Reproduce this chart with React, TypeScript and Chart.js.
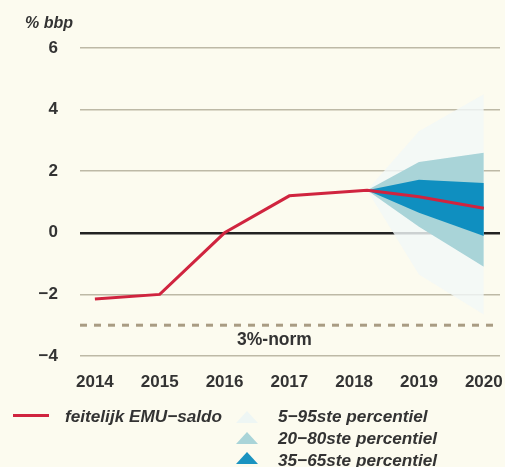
import React, { useEffect, useRef } from "react";
import { Chart, registerables } from "chart.js";
Chart.register(...registerables);

// ---- data ----
const years = [2014, 2015, 2016, 2017, 2018, 2019, 2020];
const yTicks = [6, 4, 2, 0, -2, -4];
const actualX = [2014, 2015, 2016, 2017, 2018.2, 2019, 2020];
const actualY = [-2.15, -2.0, 0.0, 1.2, 1.38, 1.17, 0.8];
const fanX = [2018.2, 2019, 2020];
const p95 = [1.38, 3.3, 4.5];
const p5 = [1.38, -1.35, -2.65];
const p80 = [1.38, 2.3, 2.6];
const p20 = [1.38, 0.2, -1.1];
const p65 = [1.38, 1.72, 1.62];
const p35 = [1.38, 0.65, -0.1];
const normValue = -3;
const normLabel = "3%-norm";
const normLabelX = 2016.77;
const legendLabels = ["feitelijk EMU\u2212saldo", "5\u221295ste percentiel", "20\u221280ste percentiel", "35\u221265ste percentiel"];

const BG = "#fcfbef";
const RED = "#d0243f";
const C595 = "rgba(241,248,248,0.82)";
const C2080 = "#a9d4d8";
const C3565 = "#0f8fc0";
const FONT = "'Liberation Sans', Arial, sans-serif";

const pts = (xs: number[], ys: number[]) => xs.map((x, i) => ({ x, y: ys[i] }));

const normPlugin = {
  id: "norm",
  afterDatasetsDraw(chart: any) {
    const { ctx, chartArea, scales } = chart;
    const y = scales.y.getPixelForValue(normValue);
    ctx.save();
    ctx.strokeStyle = "#a99c83";
    ctx.lineWidth = 3;
    ctx.setLineDash([7, 7]);
    ctx.beginPath();
    ctx.moveTo(chartArea.left, y);
    ctx.lineTo(chartArea.right, y);
    ctx.stroke();
    ctx.setLineDash([]);
    ctx.fillStyle = "#333";
    ctx.font = `bold 17.5px ${FONT}`;
    ctx.textAlign = "center";
    ctx.textBaseline = "middle";
    ctx.fillText(normLabel, scales.x.getPixelForValue(normLabelX), y + 15);
    ctx.restore();
  },
};

export default function App() {
  const ref = useRef<HTMLCanvasElement | null>(null);
  useEffect(() => {
    document.body.style.margin = "0";
    document.body.style.background = BG;
    const band = (data: number[], color: string, fill: any, order: number) => ({
      data: pts(fanX, data),
      borderWidth: 0,
      pointRadius: 0,
      backgroundColor: color,
      borderColor: "transparent",
      fill,
      order,
    });
    const chart = new Chart(ref.current!, {
      type: "line",
      data: {
        datasets: [
          band(p95, C595, false, 3),
          band(p5, C595, 0, 3),
          band(p80, C2080, false, 2),
          band(p20, C2080, 2, 2),
          band(p65, C3565, false, 1),
          band(p35, C3565, 4, 1),
          {
            label: legendLabels[0],
            data: pts(actualX, actualY),
            borderColor: RED,
            borderWidth: 3,
            pointRadius: 0,
            fill: false,
            tension: 0,
            order: 0,
          },
        ],
      },
      options: {
        responsive: false,
        animation: false,
        layout: { padding: { top: 48, right: 5, left: 0, bottom: 0 } },
        plugins: { legend: { display: false }, tooltip: { enabled: false } },
        scales: {
          x: {
            type: "linear",
            min: 2013.77,
            max: 2020.25,
            afterBuildTicks: (s: any) => {
              s.ticks = years.map((v) => ({ value: v }));
            },
            afterFit: (s: any) => {
              s.height = 111;
              s.paddingRight = 0;
              s.paddingLeft = 0;
            },
            grid: { display: false },
            border: { display: false },
            ticks: {
              color: "#333",
              font: { family: FONT, size: 17, weight: "bold" },
              padding: 8,
              maxRotation: 0,
              callback: (v: any) => String(v),
            },
          },
          y: {
            min: -4,
            max: 6,
            afterBuildTicks: (s: any) => {
              s.ticks = yTicks.map((v) => ({ value: v }));
            },
            afterFit: (s: any) => {
              s.width = 80;
              s.paddingTop = 0;
              s.paddingBottom = 0;
            },
            border: { display: false },
            grid: {
              drawTicks: false,
              color: (c: any) => (c.tick && c.tick.value === 0 ? "#222" : "#bdb9a6"),
              lineWidth: (c: any) => (c.tick && c.tick.value === 0 ? 2.5 : 1.5),
            },
            ticks: {
              color: "#333",
              font: { family: FONT, size: 17, weight: "bold" },
              padding: 22,
              callback: (v: any) => (v < 0 ? "\u2212" + Math.abs(v) : String(v)),
            },
          },
        },
      } as any,
      plugins: [normPlugin],
    });
    return () => chart.destroy();
  }, []);

  const txt: React.CSSProperties = {
    position: "absolute",
    fontFamily: FONT,
    fontWeight: "bold",
    fontStyle: "italic",
    fontSize: 17.2,
    color: "#333",
    whiteSpace: "nowrap",
    lineHeight: "20px",
  };
  const tri = (color: string, top: number): React.CSSProperties => ({
    position: "absolute",
    left: 236,
    top,
    width: 0,
    height: 0,
    borderLeft: "11px solid transparent",
    borderRight: "11px solid transparent",
    borderBottom: `12px solid ${color}`,
  });

  return (
    <div style={{ position: "relative", width: 505, height: 467, background: BG }}>
      <canvas ref={ref} width={505} height={467} style={{ position: "absolute", left: 0, top: 0 }} />
      <div style={{ ...txt, fontSize: 16, left: 25, top: 13 }}>% bbp</div>
      <div style={{ position: "absolute", left: 13, top: 414, width: 36, height: 3, background: RED }} />
      <div style={{ ...txt, left: 65, top: 406 }}>{legendLabels[0]}</div>
      <div style={tri("#eef6f4", 411)} />
      <div style={{ ...txt, left: 278, top: 406 }}>{legendLabels[1]}</div>
      <div style={tri(C2080, 432)} />
      <div style={{ ...txt, left: 278, top: 428 }}>{legendLabels[2]}</div>
      <div style={tri("#1a93c0", 452)} />
      <div style={{ ...txt, left: 278, top: 450 }}>{legendLabels[3]}</div>
    </div>
  );
}
